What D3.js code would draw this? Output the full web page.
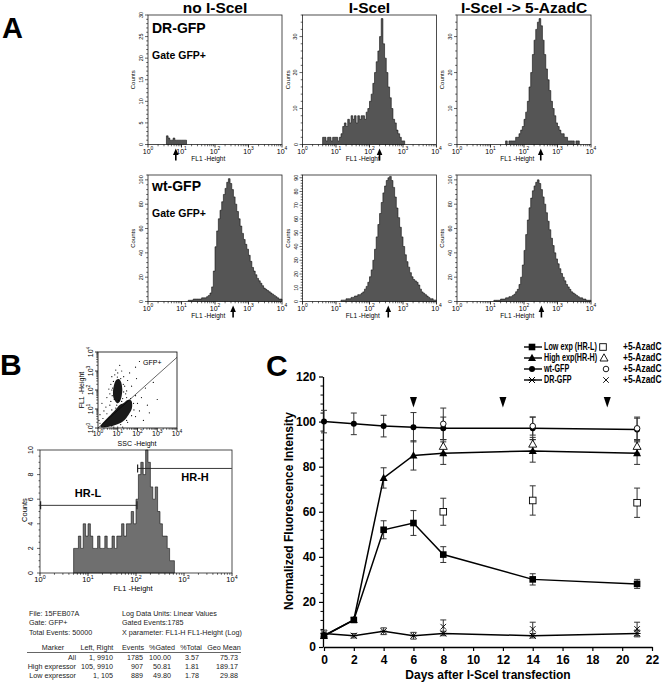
<!DOCTYPE html>
<html><head><meta charset="utf-8">
<script src="https://cdn.jsdelivr.net/npm/d3@7"></script>
<style>body{margin:0;background:#fff}svg{display:block}</style>
</head><body><svg id="c" width="669" height="682"></svg>
<script>
// ================= DATA =================
// Panel A: histogram titles / labels
const histTitles = ["no I-SceI", "I-SceI", "I-SceI -> 5-AzadC"];
const rowLabels = ["DR-GFP", "wt-GFP"];
const gateLabel = "Gate GFP+";
const binStep = 0.05; // decades per bin (FL1-Height, log10)
// Row 1 (DR-GFP)
const drNoStart = 0.55;
const drNoHist = [2,1.5,1,1,1.5,1,1,1,1,1,1,1];
const drIsceStart = 0.60;
const drIsceHist = [2,2,1,2,2,1,2,2,2,1,2,3,5,6,5,7,6,8,7,8,6,8,7,8,8,7,9,10,12,14,17,20,23,26,30,35,28,24,20,16,13,10,7,6,4,3,2,1,1];
const drAzaStart = 1.45;
const drAzaHist = [1,0,1,1,1,1,2,2,3,4,5,7,9,12,16,20,25,29,32,34,35,33,29,25,21,18,15,12,10,8,6,5,4,3,3,2,2,1,1,1,1,0,1,1];
// Row 2 (wt-GFP)
const wtNoStart = 1.20;
const wtNoHist = [1,1,1,2,2,2,2,2,3,3,3,4,5,7,12,25,45,58,68,75,82,88,93,98,101,97,92,86,80,74,68,62,56,51,47,43,38,33,28,25,22,19,17,15,13,11,10,9,8,7,6,5,4,3,2,2];
const wtIsceStart = 1.15;
const wtIsceHist = [1,1,1,2,2,2,3,3,4,4,5,5,6,7,9,11,14,18,23,30,38,47,56,64,72,79,84,88,90,91,88,83,76,68,61,54,47,40,34,29,25,21,18,16,15,14,12,9,7,6,5,4,3,2,2,1,1];
const wtAzaStart = 1.10;
const wtAzaHist = [1,1,1,1,2,2,2,3,3,4,4,5,6,8,10,14,20,30,42,55,67,77,85,91,95,98,100,97,92,86,80,73,66,59,52,46,40,35,31,27,23,20,17,14,12,10,8,7,6,5,4,3,3,2,2,1,1,1];
const histYMax = [[30,36,36],[104,92,104]];
const histYMajor = [[5,10,10],[20,10,20]];
const histYMinor = [[1,2,2],[4,2,4]];
const arrowPos = [[0.83,2.3,2.5],[2.54,2.56,2.52]]; // log10 FL1
const logTicks = [0,1,2,3,4];

// Panel B: dot plot
const gatePlusLabel = "GFP+";
const gateLine = [[0,0],[4,3.72]]; // log SSC, log FL1
const blobPlus = [[0.78,1.6],[0.76,1.95],[0.82,2.3],[0.92,2.52],[1.05,2.58],[1.17,2.42],[1.23,2.05],[1.2,1.7],[1.12,1.42],[1.0,1.3],[0.88,1.4]];
const blobMinus = [[0.15,0.04],[0.5,0.05],[0.95,0.18],[1.3,0.38],[1.55,0.7],[1.72,1.05],[1.7,1.42],[1.5,1.48],[1.28,1.3],[1.08,1.2],[0.85,0.92],[0.55,0.6],[0.32,0.36],[0.16,0.16]];
const sparseDots = [[0.6,1.8],[0.65,2.3],[0.7,2.7],[0.85,2.8],[1.0,2.9],[1.3,2.7],[1.35,2.2],[1.4,1.8],[0.65,1.4],[1.5,2.5],[1.6,2.9],[1.9,3.2],[2.1,3.5],[1.2,3.0],[0.9,3.05],[0.05,0.4],[0.1,0.7],[0.3,0.9],[0.4,1.1],[0.2,1.3],[0.6,1.2],[1.0,0.05],[1.5,0.3],[1.9,0.6],[2.1,0.9],[2.0,1.3],[1.9,1.7],[2.2,1.6],[2.5,1.2],[2.3,0.4],[2.6,0.8],[3.0,1.5],[2.8,2.4],[1.7,2.2],[0.45,1.6],[1.25,0.05],[0.8,0.05],[1.45,1.95],[0.55,2.05],[1.1,3.3],[2.4,2.1],[1.95,2.6],
  [0.72,1.7],[0.74,2.1],[0.78,2.45],[0.98,2.68],[1.15,2.6],[1.28,2.3],[1.3,1.9],[1.25,1.55],[0.82,1.5],[0.7,2.0],
  [0.1,0.25],[0.25,0.5],[0.45,0.75],[0.7,0.95],[0.95,1.2],[1.2,1.4],[1.45,1.6],[1.65,1.55],[1.8,1.3],[1.82,0.95],[1.7,0.65],[1.45,0.4],[1.15,0.18],[0.7,0.1],[0.35,0.08],[0.9,1.05],[1.05,1.45]];
// Panel B: marker histogram
const bStart = 0.70;
const bHist = [2,2,3,2,4,3,4,3,2,2,3,2,2,3,2,2,3,2,3,3,4,3,4,4,5,4,6,8,9,8,10,9,7,6,7,5,4,3,3,2,1,1];
const markerHRL = {label:"HR-L", from:1, to:105, level:5.5};
const markerHRH = {label:"HR-H", from:105, to:9910, level:8.5};
// Panel B: stats table
const infoLeft = ["File: 15FEB07A","Gate: GFP+","Total Events: 50000"];
const infoRight = ["Log Data Units: Linear Values","Gated Events:1785","X parameter: FL1-H FL1-Height (Log)"];
const tableHeader = ["Marker","Left, Right","Events","%Gated","%Total","Geo Mean"];
const tableRows = [
  ["All","1, 9910","1785","100.00","3.57","75.73"],
  ["High expressor","105, 9910","907","50.81","1.81","189.17"],
  ["Low expressor","1, 105","889","49.80","1.78","29.88"]];

// Panel C: time course
const days = [0,2,4,6,8,14,21];
const lowExp  = [5,12,52,55,41,30,28];     const lowErr  = [1,1,4,5.5,3.5,2.5,2];
const highExp = [5,12,75,85,86,87,86];     const highErr = [1,1,4.5,6.5,5,5,5];
const wtGFP   = [100,99,98,97.5,97,97,96.5]; const wtErr = [5,4.8,4.8,6.5,5,5,5];
const drGFP   = [6,5,7,5,6,5,6];           const drErr   = [1.5,1,1.5,1.5,1,1,1.5];
const azaDays = [8,14,21];
const lowAza  = [60,65,64];  const lowAzaErr  = [6,6.5,6.5];
const highAza = [89,90,89];  const highAzaErr = [3,3,3];
const wtAza   = [99,98,97];  const wtAzaErr   = [7,4,5];
const drAzaC  = [9,8,8];     const drAzaCErr  = [3,3,3];
const arrowDays = [6,12,19];
const legendNames = ["Low exp (HR-L)","High exp(HR-H)","wt-GFP","DR-GFP"];
const legendAza = "+5-AzadC";
const yTicksC = [0,20,40,60,80,100,120];
const xTicksC = [0,2,4,6,8,10,12,14,16,18,20,22];

// ================= DRAWING =================
const FONT = '"Liberation Sans", Arial, Helvetica, sans-serif';
const svg = d3.select("#c");
svg.append("rect").attr("width",669).attr("height",682).attr("fill","#fff");

function txt(g,x,y,s,o={}){
  const t=g.append("text").attr("x",x).attr("y",y).text(s)
    .attr("font-family",FONT).attr("font-size",o.size||10)
    .attr("font-weight",o.bold?"bold":"normal")
    .attr("text-anchor",o.anchor||"start").attr("fill",o.fill||"#000");
  if(o.rot!==undefined) t.attr("transform",`rotate(${o.rot},${x},${y})`);
  if(o.squeeze){ const L=t.node().getComputedTextLength(); t.attr("textLength",L*o.squeeze).attr("lengthAdjust","spacingAndGlyphs"); }
  return t;
}
function p10(g,x,y,k,size,o={}){
  const t=g.append("text").attr("x",x).attr("y",y).attr("font-family",FONT)
    .attr("font-size",size).attr("text-anchor",o.anchor||"middle").attr("fill","#000");
  if(o.rot!==undefined) t.attr("transform",`rotate(${o.rot},${x},${y})`);
  t.append("tspan").text("10");
  t.append("tspan").attr("dy",-size*0.45).attr("font-size",size*0.7).text(k);
  return t;
}
function logAxisX(g,x,yb,labSize,labDy){
  logTicks.forEach(k=>{
    g.append("line").attr("x1",x(Math.pow(10,k))).attr("x2",x(Math.pow(10,k)))
      .attr("y1",yb).attr("y2",yb+3).attr("stroke","#000").attr("stroke-width",0.8);
    p10(g,x(Math.pow(10,k)),yb+labDy,k,labSize);
  });
  for(let k=0;k<4;k++) for(let m=2;m<10;m++){
    const v=m*Math.pow(10,k);
    g.append("line").attr("x1",x(v)).attr("x2",x(v)).attr("y1",yb).attr("y2",yb+1.8)
      .attr("stroke","#000").attr("stroke-width",0.6);
  }
}
function histPath(g,x,y,start,vals,fill){
  const pts=vals.map((v,i)=>[Math.pow(10,start+i*binStep),v]);
  pts.push([Math.pow(10,start+vals.length*binStep),0]);
  const area=d3.area().x(d=>x(d[0])).y0(y(0)).y1(d=>y(d[1])).curve(d3.curveStepAfter);
  g.append("path").attr("d",area(pts)).attr("fill",fill).attr("stroke","#111").attr("stroke-width",0.6);
}

// ---------- Panel A ----------
txt(svg,2,38,"A",{size:29,bold:true});
const colX=[148,302.5,457], colW=134;
const rowY=[[15,144.5],[175,301.5]];
const histData=[[drNoHist,drIsceHist,drAzaHist],[wtNoHist,wtIsceHist,wtAzaHist]];
const histStart=[[drNoStart,drIsceStart,drAzaStart],[wtNoStart,wtIsceStart,wtAzaStart]];
histTitles.forEach((t,c)=>txt(svg,colX[c]+colW/2,13,t,{size:15.5,bold:true,anchor:"middle"}));
for(let r=0;r<2;r++) for(let c=0;c<3;c++){
  const g=svg.append("g");
  const x0=colX[c], x1=colX[c]+colW, yt=rowY[r][0], yb=rowY[r][1];
  const x=d3.scaleLog().domain([1,1e4]).range([x0,x1]);
  const y=d3.scaleLinear().domain([0,histYMax[r][c]]).range([yb,yt]);
  histPath(g,x,y,histStart[r][c],histData[r][c],"#555");
  g.append("rect").attr("x",x0).attr("y",yt).attr("width",colW).attr("height",yb-yt)
    .attr("fill","none").attr("stroke","#222").attr("stroke-width",0.8);
  const mj=histYMajor[r][c], mn=histYMinor[r][c];
  for(let v=0; v<=histYMax[r][c]+0.001; v+=mn){
    const isMaj=Math.abs(v/mj-Math.round(v/mj))<1e-6;
    g.append("line").attr("x1",x0).attr("x2",x0-(isMaj?3:1.8)).attr("y1",y(v)).attr("y2",y(v))
      .attr("stroke","#000").attr("stroke-width",0.6);
    if(isMaj) txt(g,x0-5,y(v),String(v),{size:5.5,anchor:"middle",rot:-90});
  }
  txt(g,x0-13,(yt+yb)/2,"Counts",{size:6,anchor:"middle",rot:-90});
  logAxisX(g,x,yb,7,9);
  txt(g,x(Math.pow(10,1.8)),yb+16.5,"FL1 -Height",{size:6.5,anchor:"middle"});
  const ax=x(Math.pow(10,arrowPos[r][c]));
  g.append("line").attr("x1",ax).attr("x2",ax).attr("y1",yb+8).attr("y2",yb+16).attr("stroke","#000").attr("stroke-width",1.6);
  g.append("path").attr("d",`M${ax},${yb+4}L${ax-2.8},${yb+10.5}L${ax+2.8},${yb+10.5}Z`).attr("fill","#000");
  if(c===0){
    txt(g,x0+4,yt+(r===0?18:16),rowLabels[r],{size:14,bold:true});
    txt(g,x0+4,yt+(r===0?44:42),gateLabel,{size:10.5,bold:true});
  }
}

// ---------- Panel B ----------
txt(svg,0,375,"B",{size:30,bold:true});
{
  const g=svg.append("g");
  const x0=98,x1=177,yt=352,yb=428;
  const x=d3.scaleLinear().domain([0,4]).range([x0,x1]);
  const y=d3.scaleLinear().domain([0,4]).range([yb,yt]);
  const line=d3.line().x(d=>x(d[0])).y(d=>y(d[1])).curve(d3.curveCardinalClosed);
  g.append("path").attr("d",line(blobMinus)).attr("fill","#1a1a1a");
  g.append("path").attr("d",line(blobPlus)).attr("fill","#1a1a1a");
  g.selectAll("circle.sd").data(sparseDots).enter().append("circle")
    .attr("cx",d=>x(d[0])).attr("cy",d=>y(d[1])).attr("r",0.6).attr("fill","#000");
  g.append("line").attr("x1",x(gateLine[0][0])).attr("y1",y(gateLine[0][1]))
    .attr("x2",x(gateLine[1][0])).attr("y2",y(gateLine[1][1])).attr("stroke","#000").attr("stroke-width",0.6);
  g.append("rect").attr("x",x0).attr("y",yt).attr("width",x1-x0).attr("height",yb-yt)
    .attr("fill","none").attr("stroke","#000").attr("stroke-width",0.8);
  txt(g,143,365,gatePlusLabel,{size:7});
  const xl=d3.scaleLog().domain([1,1e4]).range([x0,x1]);
  const yl=d3.scaleLog().domain([1,1e4]).range([yb,yt]);
  logAxisX(g,xl,yb,7,8);
  logTicks.forEach(k=>{
    const v=Math.pow(10,k);
    g.append("line").attr("x1",x0).attr("x2",x0-3).attr("y1",yl(v)).attr("y2",yl(v)).attr("stroke","#000").attr("stroke-width",0.8);
    p10(g,x0-5,yl(v),k,7,{rot:-90});
  });
  for(let k=0;k<4;k++) for(let m=2;m<10;m++){
    const v=m*Math.pow(10,k);
    g.append("line").attr("x1",x0).attr("x2",x0-1.8).attr("y1",yl(v)).attr("y2",yl(v)).attr("stroke","#000").attr("stroke-width",0.6);
  }
  txt(g,137,445.5,"SSC -Height",{size:7,anchor:"middle"});
  txt(g,83.5,390,"FL1 -Height",{size:7,anchor:"middle",rot:-90});
}
{
  const g=svg.append("g");
  const x0=40,x1=232,yt=450,yb=573;
  const x=d3.scaleLog().domain([1,1e4]).range([x0,x1]);
  const y=d3.scaleLinear().domain([0,10]).range([yb,yt]);
  histPath(g,x,y,bStart,bHist,"#6f6f6f");
  g.append("rect").attr("x",x0).attr("y",yt).attr("width",x1-x0).attr("height",yb-yt)
    .attr("fill","none").attr("stroke","#222").attr("stroke-width",0.8);
  for(let v=0; v<=10; v+=0.5){
    const isMaj=Math.abs(v/2-Math.round(v/2))<1e-6;
    g.append("line").attr("x1",x0).attr("x2",x0-(isMaj?3:1.5)).attr("y1",y(v)).attr("y2",y(v)).attr("stroke","#000").attr("stroke-width",0.6);
    if(isMaj) txt(g,x0-7,y(v),String(v),{size:7,anchor:"middle",rot:-90});
  }
  txt(g,27,510,"Counts",{size:7.5,anchor:"middle",rot:-90});
  logAxisX(g,x,yb,7.5,9);
  txt(g,133,590.5,"FL1 -Height",{size:7.5,anchor:"middle"});
  [markerHRL,markerHRH].forEach(m=>{
    const xa=x(m.from), xb=Math.min(x(m.to),x1), yy=y(m.level);
    g.append("line").attr("x1",xa).attr("x2",xb).attr("y1",yy).attr("y2",yy).attr("stroke","#222").attr("stroke-width",0.9);
    g.append("line").attr("x1",xa+0.6).attr("x2",xa+0.6).attr("y1",yy-4).attr("y2",yy+4).attr("stroke","#222").attr("stroke-width",1.2);
    if(m===markerHRL) g.append("line").attr("x1",xb).attr("x2",xb).attr("y1",yy-4).attr("y2",yy+4).attr("stroke","#222").attr("stroke-width",1.2);
  });
  txt(g,88,497,markerHRL.label,{size:11,bold:true,anchor:"middle"});
  txt(g,195,481,markerHRH.label,{size:11,bold:true,anchor:"middle"});
}
{
  const g=svg.append("g");
  const fs=7.2, col="#222";
  infoLeft.forEach((s,i)=>txt(g,29,616+i*9.3,s,{size:fs,fill:col}));
  infoRight.forEach((s,i)=>txt(g,122,616+i*9.3,s,{size:fs,fill:col}));
  const hx=[53,97,133,162,191,224];
  tableHeader.forEach((s,i)=>txt(g,hx[i],650,s,{size:fs,anchor:"middle",fill:col}));
  g.append("line").attr("x1",27).attr("x2",241).attr("y1",652.5).attr("y2",652.5).attr("stroke","#222").attr("stroke-width",0.7);
  const rx=[76,113,143,171,199,238];
  tableRows.forEach((row,j)=>row.forEach((s,i)=>txt(g,rx[i],659.5+j*9.1,s,{size:fs,anchor:"end",fill:col})));
}

// ---------- Panel C ----------
txt(svg,266,376,"C",{size:30,bold:true});
{
  const g=svg.append("g");
  const x=d3.scaleLinear().domain([0,22]).range([324,652]);
  const y=d3.scaleLinear().domain([0,120]).range([647,376.5]);
  const ax=g.append("g").attr("transform","translate(0,647)")
    .call(d3.axisBottom(x).tickValues(xTicksC).tickSize(4).tickSizeOuter(0).tickPadding(4));
  ax.select(".domain").attr("stroke","#000").attr("stroke-width",1.3);
  ax.selectAll(".tick line").attr("stroke-width",1.2);
  ax.selectAll("text").attr("font-family",FONT).attr("font-size",12).attr("font-weight","bold").attr("fill","#000");
  const ay=g.append("g").attr("transform","translate(323,0)")
    .call(d3.axisLeft(y).tickValues(yTicksC).tickSize(4).tickSizeOuter(0).tickPadding(3));
  ay.select(".domain").attr("stroke","#000").attr("stroke-width",1.3);
  ay.selectAll(".tick line").attr("stroke-width",1.2);
  ay.selectAll("text").attr("font-family",FONT).attr("font-size",12).attr("font-weight","bold").attr("fill","#000");
  const minorY=d3.range(0,121,4).filter(v=>v%20!==0);
  g.append("g").attr("transform","translate(323,0)")
    .call(d3.axisLeft(y).tickValues(minorY).tickSize(2.5).tickFormat(""))
    .call(s=>s.select(".domain").remove());
  txt(g,488,679,"Days after I-SceI transfection",{size:12,bold:true,anchor:"middle"});
  txt(g,293,511,"Normalized Fluorescence Intensity",{size:12,bold:true,anchor:"middle",rot:-90});

  arrowDays.forEach(d=>g.append("path").attr("d",`M${x(d)-3.5},397L${x(d)+3.5},397L${x(d)},407.5Z`).attr("fill","#000"));

  function errBars(xs,vals,errs){
    xs.forEach((d,i)=>{
      const cx=x(d), t=y(vals[i]+errs[i]), b=y(vals[i]-errs[i]);
      g.append("line").attr("x1",cx).attr("x2",cx).attr("y1",t).attr("y2",b).attr("stroke","#333").attr("stroke-width",1);
      [t,b].forEach(yy=>g.append("line").attr("x1",cx-3).attr("x2",cx+3).attr("y1",yy).attr("y2",yy).attr("stroke","#333").attr("stroke-width",1));
    });
  }
  const ln=d3.line().x((d,i)=>x(days[i])).y(d=>y(d));
  function sym(type,cx,cy,open){
    const fill=open?"#fff":"#000";
    if(type==="sq") g.append("rect").attr("x",cx-3.3).attr("y",cy-3.3).attr("width",6.6).attr("height",6.6).attr("fill",fill).attr("stroke","#000").attr("stroke-width",open?0.9:0);
    if(type==="tri") g.append("path").attr("d",`M${cx},${cy-4.2}L${cx+4},${cy+3}L${cx-4},${cy+3}Z`).attr("fill",fill).attr("stroke","#000").attr("stroke-width",open?0.9:0);
    if(type==="ci") g.append("circle").attr("cx",cx).attr("cy",cy).attr("r",open?2.8:3).attr("fill",fill).attr("stroke","#000").attr("stroke-width",open?0.9:0);
    if(type==="ast") g.append("path").attr("d",`M${cx-3},${cy-3}L${cx+3},${cy+3}M${cx-3},${cy+3}L${cx+3},${cy-3}M${cx-3.5},${cy}L${cx+3.5},${cy}`).attr("stroke","#000").attr("stroke-width",1);
    if(type==="x") g.append("path").attr("d",`M${cx-2.8},${cy-2.8}L${cx+2.8},${cy+2.8}M${cx-2.8},${cy+2.8}L${cx+2.8},${cy-2.8}`).attr("stroke","#000").attr("stroke-width",0.9);
  }
  errBars(days,wtGFP,wtErr); errBars(days,highExp,highErr); errBars(days,lowExp,lowErr); errBars(days,drGFP,drErr);
  errBars(azaDays,lowAza,lowAzaErr); errBars(azaDays,highAza,highAzaErr); errBars(azaDays,wtAza,wtAzaErr); errBars(azaDays,drAzaC,drAzaCErr);
  [wtGFP,highExp,lowExp,drGFP].forEach(s=>g.append("path").attr("d",ln(s)).attr("fill","none").attr("stroke","#000").attr("stroke-width",1.5));
  days.forEach((d,i)=>{ sym("ci",x(d),y(wtGFP[i])); sym("tri",x(d),y(highExp[i])); sym("sq",x(d),y(lowExp[i])); sym("ast",x(d),y(drGFP[i])); });
  azaDays.forEach((d,i)=>{ sym("sq",x(d),y(lowAza[i]),true); sym("tri",x(d),y(highAza[i]),true); sym("ci",x(d),y(wtAza[i]),true); sym("x",x(d),y(drAzaC[i]),true); });

  const legY=[347,358,369,380], types=["sq","tri","ci","ast"], otypes=["sq","tri","ci","x"], ox=[603,604,606,606];
  legendNames.forEach((n,i)=>{
    g.append("line").attr("x1",524).attr("x2",542).attr("y1",legY[i]).attr("y2",legY[i]).attr("stroke","#000").attr("stroke-width",1.4);
    sym(types[i],532,legY[i]);
    txt(g,544,legY[i]+3.4,n,{size:10,bold:true,squeeze:0.72});
    sym(otypes[i],ox[i],legY[i],true);
    txt(g,623,legY[i]+3.4,legendAza,{size:10,bold:true,squeeze:0.84});
  });
}
</script>
</body></html>
